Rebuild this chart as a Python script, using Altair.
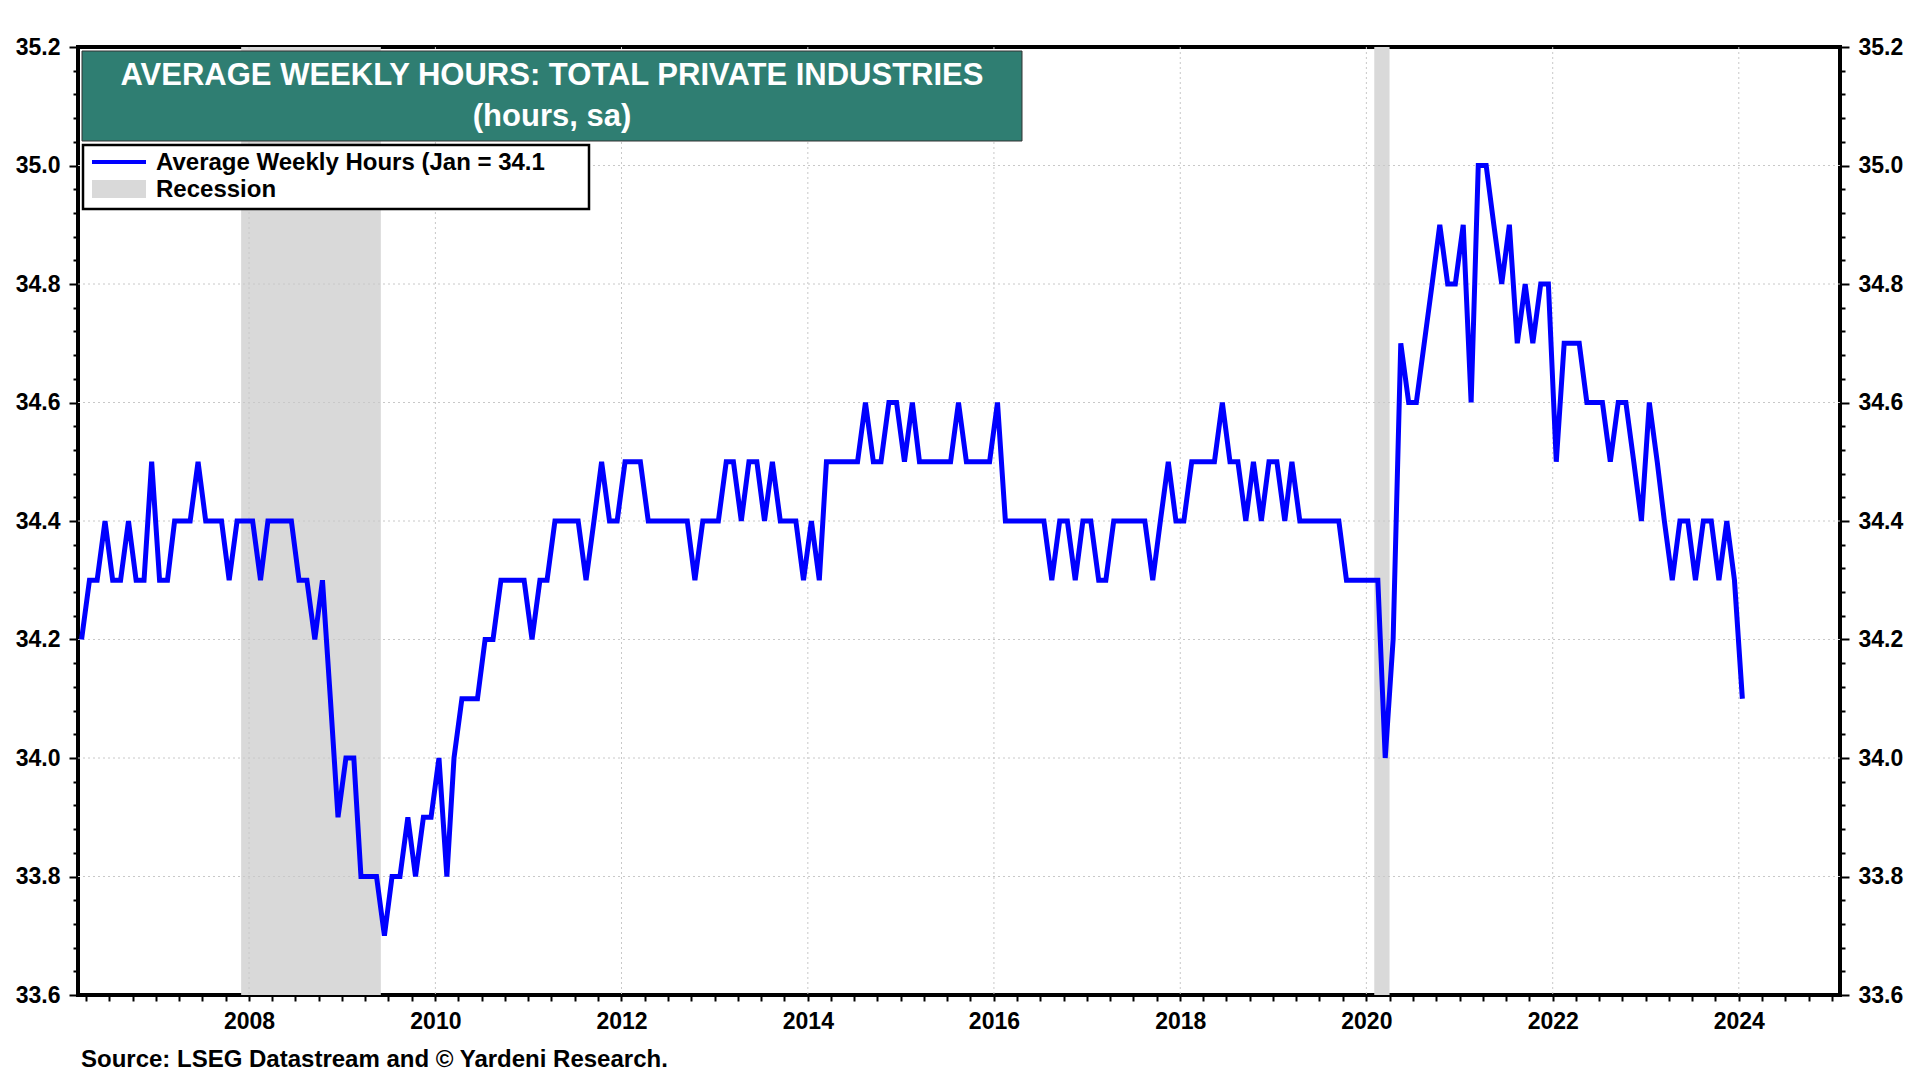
import altair as alt
import pandas as pd

# ---------------- data (monthly) ----------------
v2006 = [34.2, 34.3, 34.3, 34.4, 34.3, 34.3, 34.4, 34.3, 34.3, 34.5]  # Mar-Dec
v2007 = [34.3, 34.3, 34.4, 34.4, 34.4, 34.5, 34.4, 34.4, 34.4, 34.3, 34.4, 34.4]
v2008 = [34.4, 34.3, 34.4, 34.4, 34.4, 34.4, 34.3, 34.3, 34.2, 34.3, 34.1, 33.9]
v2009 = [34.0, 34.0, 33.8, 33.8, 33.8, 33.7, 33.8, 33.8, 33.9, 33.8, 33.9, 33.9]
v2010 = [34.0, 33.8, 34.0, 34.1, 34.1, 34.1, 34.2, 34.2, 34.3, 34.3, 34.3, 34.3]
v2011 = [34.2, 34.3, 34.3, 34.4, 34.4, 34.4, 34.4, 34.3, 34.4, 34.5, 34.4, 34.4]
v2012 = [34.5, 34.5, 34.5, 34.4, 34.4, 34.4, 34.4, 34.4, 34.4, 34.3, 34.4, 34.4]
v2013 = [34.4, 34.5, 34.5, 34.4, 34.5, 34.5, 34.4, 34.5, 34.4, 34.4, 34.4, 34.3]
v2014 = [34.4, 34.3, 34.5, 34.5, 34.5, 34.5, 34.5, 34.6, 34.5, 34.5, 34.6, 34.6]
v2015 = [34.5, 34.6, 34.5, 34.5, 34.5, 34.5, 34.5, 34.6, 34.5, 34.5, 34.5, 34.5]
v2016 = [34.6, 34.4, 34.4, 34.4, 34.4, 34.4, 34.4, 34.3, 34.4, 34.4, 34.3, 34.4]
v2017 = [34.4, 34.3, 34.3, 34.4, 34.4, 34.4, 34.4, 34.4, 34.3, 34.4, 34.5, 34.4]
v2018 = [34.4, 34.5, 34.5, 34.5, 34.5, 34.6, 34.5, 34.5, 34.4, 34.5, 34.4, 34.5]
v2019 = [34.5, 34.4, 34.5, 34.4, 34.4, 34.4, 34.4, 34.4, 34.4, 34.3, 34.3, 34.3]
v2020 = [34.3, 34.3, 34.0, 34.2, 34.7, 34.6, 34.6, 34.7, 34.8, 34.9, 34.8, 34.8]
v2021 = [34.9, 34.6, 35.0, 35.0, 34.9, 34.8, 34.9, 34.7, 34.8, 34.7, 34.8, 34.8]
v2022 = [34.5, 34.7, 34.7, 34.7, 34.6, 34.6, 34.6, 34.5, 34.6, 34.6, 34.5, 34.4]
v2023 = [34.6, 34.5, 34.4, 34.3, 34.4, 34.4, 34.3, 34.4, 34.4, 34.3, 34.4, 34.3]
v2024 = [34.1]

series = {2006: v2006, 2007: v2007, 2008: v2008, 2009: v2009, 2010: v2010,
          2011: v2011, 2012: v2012, 2013: v2013, 2014: v2014, 2015: v2015,
          2016: v2016, 2017: v2017, 2018: v2018, 2019: v2019, 2020: v2020,
          2021: v2021, 2022: v2022, 2023: v2023, 2024: v2024}

recession_start = ["2007-12-01", "2020-02-01"]
recession_end = ["2009-06-01", "2020-04-01"]

y_grid = [33.8, 34.0, 34.2, 34.4, 34.6, 34.8, 35.0]
x_grid_years = [2008, 2010, 2012, 2014, 2016, 2018, 2020, 2022, 2024]

title_1 = "AVERAGE WEEKLY HOURS: TOTAL PRIVATE INDUSTRIES"
title_2 = "(hours, sa)"
legend_1 = "Average Weekly Hours (Jan = 34.1"
legend_2 = "Recession"
source = "Source: LSEG Datastream and \u00a9 Yardeni Research."

# ---------------- tables ----------------
rows = []
for year, vals in series.items():
    start = 3 if year == 2006 else 1
    for i, v in enumerate(vals):
        rows.append({"date": f"{year}-{start + i:02d}-15", "hours": v})
df = pd.DataFrame(rows)

rec_df = pd.DataFrame({"date": recession_start, "end": recession_end})
ygrid_df = pd.DataFrame({"hours": y_grid})
xgrid_df = pd.DataFrame({"date": [f"{y}-01-01" for y in x_grid_years]})
one = pd.DataFrame({"k": [0]})

# ---------------- layout ----------------
W, H = 1762, 948
FONT = "Liberation Sans"
BLUE = "#0000FF"
GREY = "#D9D9D9"
TEAL = "#2F7E72"

x_ticks = []
for y in range(2006, 2026):
    for m in (1, 4, 7, 10):
        if (y == 2006 and m < 4) or (y == 2025 and m > 1):
            continue
        x_ticks.append(alt.DateTime(year=y, month=m, date=1))

y_ticks = [round(33.6 + 0.04 * k, 2) for k in range(41)]
MAJ = "abs(datum.value*5 - round(datum.value*5)) < 0.001"

x_scale = alt.Scale(domain=[alt.DateTime(year=2006, month=3, date=1),
                            alt.DateTime(year=2025, month=2, date=1)])
y_scale = alt.Scale(domain=[33.6, 35.2], nice=False, zero=False)

x_axis = alt.Axis(values=x_ticks,
                  labelExpr="(month(datum.value)==0 && year(datum.value)%2==0) ? timeFormat(datum.value,'%Y') : ''",
                  tickSize=6, tickWidth=2, tickColor="black", domain=False, grid=False,
                  labelFont=FONT, labelFontSize=23, labelFontWeight="bold", labelColor="black",
                  labelPadding=9, title=None, labelOverlap=False, labelFlush=False, labelBound=False)


def y_axis(orient):
    return alt.Axis(orient=orient, values=y_ticks,
                    labelExpr=f"{MAJ} ? format(datum.value, '.1f') : ''",
                    tickSize={"condition": {"test": MAJ, "value": 9}, "value": 5},
                    tickWidth=2, tickColor="black", domain=False, grid=False,
                    labelFont=FONT, labelFontSize=23, labelFontWeight="bold", labelColor="black",
                    labelPadding=9, title=None, labelOverlap=False, labelFlush=False, labelBound=False)


X = alt.X("date:T", scale=x_scale, axis=x_axis)

rec = alt.Chart(rec_df).mark_rect(color=GREY).encode(
    x=X, x2="end:T", y=alt.value(0), y2=alt.value(H))

ygrid = alt.Chart(ygrid_df).mark_rule(color="#c8c8c8", strokeDash=[2, 3], strokeWidth=1).encode(
    y=alt.Y("hours:Q", scale=y_scale, axis=None))

xgrid = alt.Chart(xgrid_df).mark_rule(color="#c8c8c8", strokeDash=[2, 3], strokeWidth=1).encode(
    x=X)

line = alt.Chart(df).mark_line(color=BLUE, strokeWidth=5, strokeJoin="miter", strokeMiterLimit=3).encode(
    x=X, y=alt.Y("hours:Q", scale=y_scale, axis=y_axis("left")))

line_r = alt.Chart(df).mark_line(strokeOpacity=0).encode(
    x=X, y=alt.Y("hours:Q", scale=y_scale, axis=y_axis("right")))

title_box = alt.Chart(one).mark_rect(fill=TEAL, stroke="#333333", strokeWidth=1).encode(
    x=alt.value(4), x2=alt.value(944), y=alt.value(4), y2=alt.value(94))

t1 = alt.Chart(one).mark_text(font=FONT, fontSize=31, fontWeight="bold", color="white",
                              align="center", baseline="alphabetic").encode(
    x=alt.value(474), y=alt.value(38), text=alt.value(title_1))
t2 = alt.Chart(one).mark_text(font=FONT, fontSize=31, fontWeight="bold", color="white",
                              align="center", baseline="alphabetic").encode(
    x=alt.value(474), y=alt.value(79), text=alt.value(title_2))

leg_box = alt.Chart(one).mark_rect(fill="white", stroke="black", strokeWidth=2.5).encode(
    x=alt.value(5), x2=alt.value(511), y=alt.value(98), y2=alt.value(162))
leg_line = alt.Chart(one).mark_rule(color=BLUE, strokeWidth=4).encode(
    x=alt.value(14), x2=alt.value(68), y=alt.value(115))
leg_sw = alt.Chart(one).mark_rect(color=GREY).encode(
    x=alt.value(14), x2=alt.value(68), y=alt.value(133), y2=alt.value(151))
lt1 = alt.Chart(one).mark_text(font=FONT, fontSize=24, fontWeight="bold", color="black",
                               align="left", baseline="alphabetic").encode(
    x=alt.value(78), y=alt.value(123), text=alt.value(legend_1))
lt2 = alt.Chart(one).mark_text(font=FONT, fontSize=24, fontWeight="bold", color="black",
                               align="left", baseline="alphabetic").encode(
    x=alt.value(78), y=alt.value(150), text=alt.value(legend_2))

src = alt.Chart(one).mark_text(font=FONT, fontSize=24, fontWeight="bold", color="black",
                               align="left", baseline="alphabetic").encode(
    x=alt.value(3), y=alt.value(H + 72), text=alt.value(source))

chart = alt.layer(
    rec, ygrid, xgrid, line, line_r, title_box, t1, t2, leg_box, leg_line, leg_sw, lt1, lt2, src
).resolve_axis(y="independent").properties(
    width=W, height=H,
    padding={"left": 70, "top": 39, "right": 68, "bottom": 77},
    autosize=alt.AutoSizeParams(type="none"),
    background="white",
).configure_view(stroke="black", strokeWidth=4)

chart.save("out.html", embed_options={"renderer": "svg", "actions": False})
